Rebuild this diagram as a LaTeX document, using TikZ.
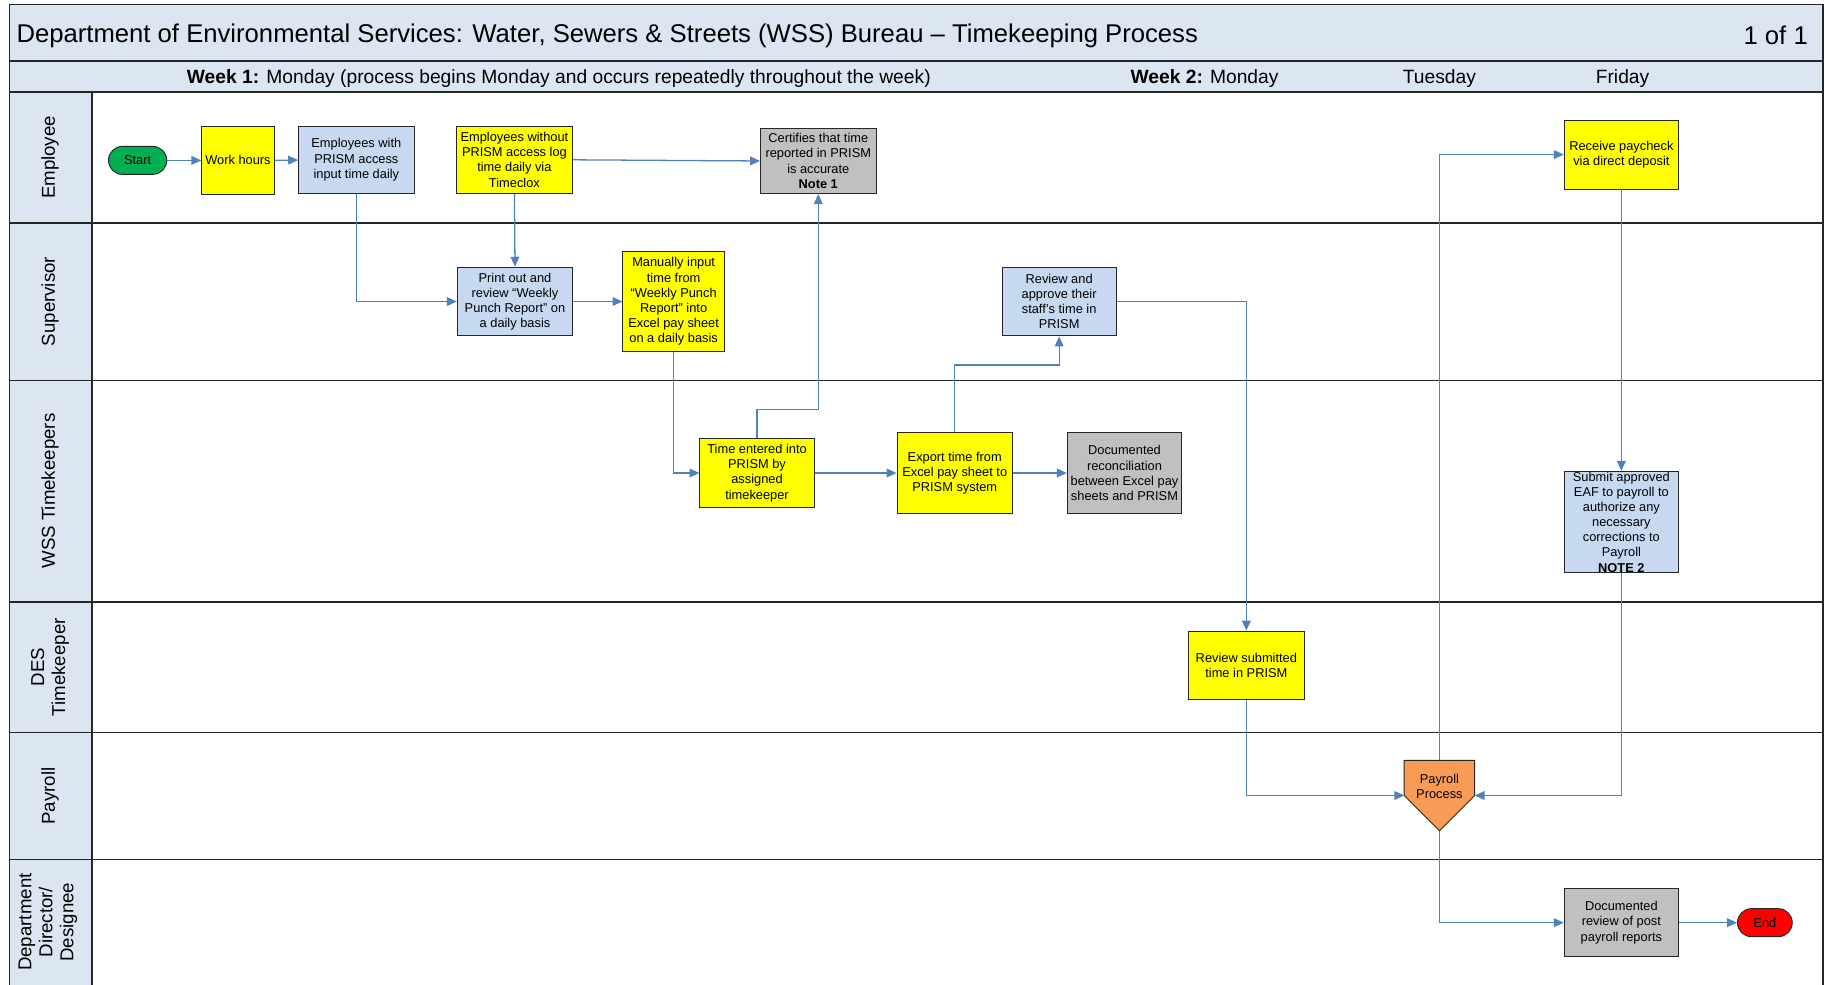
\documentclass[tikz,border=0pt]{standalone}
\usepackage{fontspec}
\setmainfont{Liberation Sans}
\usetikzlibrary{arrows.meta}
\definecolor{hdr}{HTML}{DCE6F2}
\definecolor{boxblue}{HTML}{C6D9F1}
\definecolor{boxyellow}{HTML}{FFFF00}
\definecolor{boxgray}{HTML}{C0C0C0}
\definecolor{boxorange}{HTML}{F79B55}
\definecolor{startgreen}{HTML}{00B050}
\definecolor{endred}{HTML}{FF0000}
\definecolor{flow}{HTML}{4F81BD}
\definecolor{rule}{HTML}{262626}
\begin{document}
\begin{tikzpicture}[x=1pt,y=-1pt,
  every node/.style={font=\fontsize{11}{13}\selectfont, inner sep=0pt},
  proc/.style={draw=rule, line width=0.8pt, align=center, minimum width=#1},
  yel/.style={fill=boxyellow},
  blu/.style={fill=boxblue},
  gry/.style={fill=boxgray},
  term/.style={draw=rule, line width=0.8pt, rounded corners=12pt, minimum height=24pt},
  lanelabel/.style={rotate=90, align=center, font=\fontsize{16}{18}\selectfont},
  lane/.style={draw=rule, line width=1.3pt},
  weektext/.style={font=\fontsize{16.5}{19}\selectfont},
  titletext/.style={font=\fontsize{22}{26}\selectfont},
  flowline/.style={draw=flow, line width=1.1pt, -{Triangle[length=8.5pt,width=7.5pt]}}
]
\useasboundingbox (0,0) rectangle (1568,844);

% header bars and lane-label column
\fill[hdr] (8,4) rectangle (1563,79);
\fill[hdr] (8,79) rectangle (79,850);
\draw[lane] (8,850) -- (8,4) -- (1563,4) -- (1563,850);
\draw[lane] (8,52.5) -- (1563,52.5);
\foreach \yy in {79,191,326,516,628,737} \draw[lane] (8,\yy) -- (1563,\yy);
\draw[lane] (79,79) -- (79,850);

% title and week bar
\node[anchor=west, titletext] (title) at (14,30.5)
  {Department of Environmental Services: Water, Sewers \& Streets (WSS) Bureau -- Timekeeping Process};
\node[anchor=east, titletext] (page) at (1550,30.5) {1 of 1};
\node[anchor=west, weektext] (wk1) at (160,67.5)
  {\textbf{Week 1:} Monday (process begins Monday and occurs repeatedly throughout the week)};
\node[anchor=west, weektext] (wk2) at (969,67.5) {\textbf{Week 2:} Monday};
\node[weektext] (tue) at (1234,67.5) {Tuesday};
\node[weektext] (fri) at (1391,67.5) {Friday};

% lane labels
\node[lanelabel] (lEmp) at (43,135) {Employee};
\node[lanelabel] (lSup) at (43,258.5) {Supervisor};
\node[lanelabel] (lWss) at (43,421) {WSS Timekeepers};
\node[lanelabel] (lDes) at (43,572) {DES\\Timekeeper};
\node[lanelabel] (lPay) at (43,682.5) {Payroll};
\node[lanelabel] (lDir) at (41,790.5) {Department\\Director/\\Designee};

% Employee lane
\node[term, fill=startgreen, minimum width=50pt] (start) at (118,137.5) {Start};
\node[proc=62, yel, minimum height=59pt] (work) at (204,137.5) {Work hours};
\node[proc=99, blu, minimum height=58pt] (ewith) at (305.5,137)
  {Employees with\\PRISM access\\input time daily};
\node[proc=100, yel, minimum height=58pt] (ewo) at (441,137)
  {Employees without\\PRISM access log\\time daily via\\Timeclox};
\node[proc=99, gry, minimum height=56pt] (cert) at (701.5,138)
  {Certifies that time\\reported in PRISM\\is accurate\\\textbf{Note 1}};
\node[proc=98, yel, minimum height=59pt] (recv) at (1390,132.5)
  {Receive paycheck\\via direct deposit};

% Supervisor lane
\node[proc=99, blu, minimum height=59pt] (print) at (441.5,258.5)
  {Print out and\\review “Weekly\\Punch Report” on\\a daily basis};
\node[proc=87, yel, minimum height=85pt] (manual) at (577.5,258.5)
  {Manually input\\time from\\“Weekly Punch\\Report” into\\Excel pay sheet\\on a daily basis};
\node[proc=98, blu, minimum height=59pt] (review) at (908,258.5)
  {Review and\\approve their\\staff’s time in\\PRISM};

% WSS Timekeepers lane
\node[proc=98, yel, minimum height=59pt] (entered) at (649,405.5)
  {Time entered into\\PRISM by\\assigned\\timekeeper};
\node[proc=99, yel, minimum height=69pt] (export) at (818.5,405.5)
  {Export time from\\Excel pay sheet to\\PRISM system};
\node[proc=98, gry, minimum height=69pt] (recon) at (964,405.5)
  {Documented\\reconciliation\\between Excel pay\\sheets and PRISM};
\node[proc=98, blu, minimum height=87pt] (eaf) at (1390,447.5)
  {Submit approved\\EAF to payroll to\\authorize any\\necessary\\corrections to\\Payroll\\\textbf{NOTE 2}};

% DES Timekeeper lane
\node[proc=99, yel, minimum height=59pt] (revsub) at (1068.5,570.5)
  {Review submitted\\time in PRISM};

% Payroll lane: off-page style connector
\node[minimum width=60pt, minimum height=60pt] (pp) at (1234,682) {};
\draw[draw=rule, line width=0.8pt, fill=boxorange]
  (pp.north west) -- (pp.north east) -- (pp.east) -- (pp.south) -- (pp.west) -- cycle;
\node[align=center] (pptext) at (1234,674) {Payroll\\Process};

% Department Director lane
\node[proc=98, gry, minimum height=58pt] (docrev) at (1390,791)
  {Documented\\review of post\\payroll reports};
\node[term, fill=endred, minimum width=47pt] (end) at (1513,791) {End};

% junction levels
\coordinate (j1) at (0,351);
\coordinate (j2) at (0,313);

% connectors
\draw[flowline] (start) -- (work);
\draw[flowline] (work) -- (ewith);
\draw[flowline] (ewith.south) |- (print.west);
\draw[flowline] (ewo.south) -- (print.north);
\draw[flowline] (ewo.east) -- (cert.west);
\draw[flowline] (print.east) -- (manual.west);
\draw[flowline] (manual.south) |- (entered.west);
\draw[flowline] (entered.north) -- (entered.north |- j1) -| (cert.south);
\draw[flowline] (entered.east) -- (export.west);
\draw[flowline] (export.east) -- (recon.west);
\draw[flowline] (export.north) -- (export.north |- j2) -| (review.south);
\draw[flowline] (review.east) -| (revsub.north);
\draw[flowline] (revsub.south) |- (pp.west);
\draw[flowline] (recv.south) -- (eaf.north);
\draw[flowline] (eaf.south) |- (pp.east);
\draw[flowline] (pp.north) |- (recv.west);
\draw[flowline] (pp.south) |- (docrev.west);
\draw[flowline] (docrev.east) -- (end.west);
\end{tikzpicture}
\end{document}
